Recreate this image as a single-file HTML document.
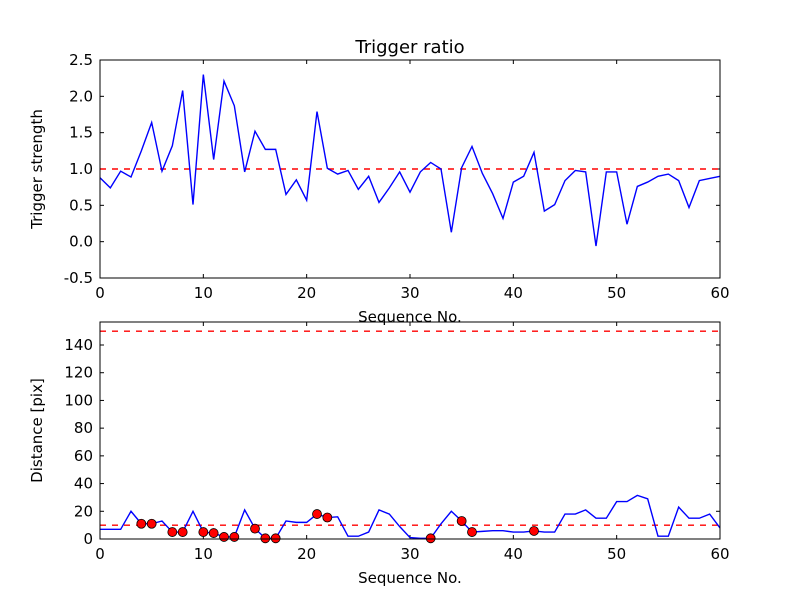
<!DOCTYPE html>
<html><head><meta charset="utf-8"><style>
body{margin:0;background:#fff}
svg{display:block;font-family:"DejaVu Sans","Liberation Sans",sans-serif}
</style></head><body>
<svg id="chart" width="800" height="600" viewBox="0 0 800 600">
<rect width="800" height="600" fill="#fff"/>
<g id="g1"></g>
<g id="g2"></g>
</svg>
<script>
const strength = [0.88,0.74,0.97,0.89,1.25,1.64,0.97,1.32,2.08,0.51,2.30,1.13,2.21,1.87,0.96,1.52,1.27,1.27,0.65,0.85,0.57,1.79,1.01,0.93,0.98,0.72,0.90,0.54,0.74,0.96,0.68,0.96,1.09,1.00,0.13,1.02,1.31,0.94,0.66,0.32,0.82,0.90,1.23,0.42,0.51,0.84,0.98,0.96,-0.06,0.96,0.96,0.24,0.76,0.82,0.90,0.93,0.84,0.47,0.84,0.87,0.90];
const distance = [7,7,7,20,11,11,13,5,5,20,5,4.3,1.5,1.5,21,7.5,0.5,0.5,13,12,12,18,15.5,16,2,2,5,21,18,9,1,0.5,0.5,11,20,13,5,5.5,6,6,5,5,5.8,5,5,18,18,21,15,15,27,27,31.5,29,2,2,23,15,15,18,8];
const flagged = [4,5,7,8,10,11,12,13,15,16,17,21,22,32,35,36,42];
const xTicks = [0,10,20,30,40,50,60];
const yTicks1 = [-0.5,0.0,0.5,1.0,1.5,2.0,2.5];
const yTicks2 = [0,20,40,60,80,100,120,140];
const threshold1 = [1.0];
const thresholds2 = [10,150];

const NS="http://www.w3.org/2000/svg";
function el(p,t,a){const e=document.createElementNS(NS,t);for(const k in a)e.setAttribute(k,a[k]);p.appendChild(e);return e;}
const L=100,R=720;
const sx=v=>L+(v-0)/(60-0)*(R-L);

function panel(g,T,B,ymin,ymax,yt,fmt,ylab,title){
  const sy=v=>B-(v-ymin)/(ymax-ymin)*(B-T);
  for(const t of xTicks){
    const x=sx(t);
    const a=el(g,'line',{x1:x,x2:x,y1:B,y2:B-4,stroke:'#000'});
    
    
    el(g,'line',{x1:x,x2:x,y1:T,y2:T+4,stroke:'#000'});
    const tx=el(g,'text',{x:x,y:B+20,'font-size':'15','text-anchor':'middle'});
    tx.textContent=t;
    
    
  }
  for(const t of yt){
    const y=sy(t);
    el(g,'line',{x1:L,x2:L+4,y1:y,y2:y,stroke:'#000'});
    el(g,'line',{x1:R,x2:R-4,y1:y,y2:y,stroke:'#000'});
    const tx=el(g,'text',{x:L-7,y:y+5,'font-size':'15','text-anchor':'end'});
    tx.textContent=fmt(t);
    
    
  }
  const xl=el(g,'text',{x:(L+R)/2,y:B+44,'font-size':'15','text-anchor':'middle'});
  xl.textContent='Sequence No.';
  
  
  const yl=el(g,'text',{x:0,y:0,'font-size':'15','text-anchor':'middle',transform:`translate(${L-58},${(T+B)/2}) rotate(-90)`});
  yl.textContent=ylab;
  
  
  if(title){
    const ti=el(g,'text',{x:(L+R)/2,y:T-7,'font-size':'18','text-anchor':'middle'});
    ti.textContent=title;
    
    
  }
  return sy;
}

const g1=document.getElementById('g1'),g2=document.getElementById('g2');
const sy1=panel(g1,60,278,-0.5,2.5,yTicks1,v=>v.toFixed(1),'Trigger strength','Trigger ratio');
for(const v of threshold1){
  const d=el(g1,'line',{x1:L,x2:R,y1:sy1(v),y2:sy1(v),stroke:'#f00','stroke-width':'1.4','stroke-dasharray':'6,6'});
  
  
}
const p1=el(g1,'polyline',{points:strength.map((v,i)=>sx(i)+','+sy1(v)).join(' '),fill:'none',stroke:'#00f','stroke-width':'1.4'});


el(g1,'rect',{x:L,y:60,width:R-L,height:218,fill:'none',stroke:'#000'});

const sy2=panel(g2,322,539,0,156.6,yTicks2,v=>String(v),'Distance [pix]',null);
for(const v of thresholds2){
  const d=el(g2,'line',{x1:L,x2:R,y1:sy2(v),y2:sy2(v),stroke:'#f00','stroke-width':'1.4','stroke-dasharray':'6,6'});
  
  
}
const p2=el(g2,'polyline',{points:distance.map((v,i)=>sx(i)+','+sy2(v)).join(' '),fill:'none',stroke:'#00f','stroke-width':'1.4'});


for(const i of flagged){
  const c=el(g2,'circle',{cx:sx(i),cy:sy2(distance[i]),r:4.5,fill:'#f00',stroke:'#000','stroke-width':'0.8'});
  
  
}
el(g2,'rect',{x:L,y:322,width:R-L,height:217,fill:'none',stroke:'#000'});
</script>
</body></html>
